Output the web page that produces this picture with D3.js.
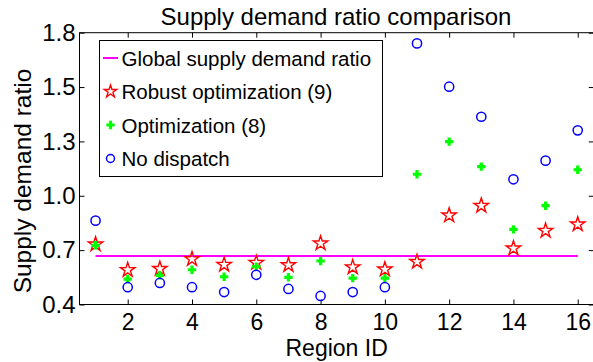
<!DOCTYPE html>
<html>
<head>
<meta charset="utf-8">
<script src="https://cdn.jsdelivr.net/npm/d3@7"></script>
<style>
  html, body { margin: 0; padding: 0; background: #fff; }
  svg { display: block; font-family: "Liberation Sans", Arial, Helvetica, sans-serif; }
</style>
</head>
<body>
<svg id="chart" width="593" height="362"></svg>
<script>
// Region identifiers along the horizontal axis
const regions = [1, 2, 3, 4, 5, 6, 7, 8, 9, 10, 11, 12, 13, 14, 15, 16];

// Supply demand ratio per region for each dispatch strategy
const robustValues = [0.710, 0.578, 0.584, 0.634, 0.605, 0.615, 0.603, 0.715, 0.592, 0.581,
                      0.620, 0.859, 0.909, 0.689, 0.780, 0.813];
const optimValues  = [0.705, 0.531, 0.550, 0.579, 0.543, 0.595, 0.540, 0.624, 0.536, 0.536,
                      1.071, 1.239, 1.110, 0.787, 0.909, 1.094];
const noDispatchValues = [0.832, 0.489, 0.511, 0.489, 0.464, 0.553, 0.480, 0.444, 0.464, 0.489,
                          1.745, 1.522, 1.367, 1.045, 1.141, 1.297];

// Global ratio, drawn as a flat line across all regions
const globalRatio = 0.650;

// Axis ticks
const xTicks = [2, 4, 6, 8, 10, 12, 14, 16];
const yTicks = [0.4, 0.68, 0.96, 1.24, 1.52, 1.8];
const yTickLabels = ["0.4", "0.7", "1.0", "1.3", "1.5", "1.8"];

const legendLabels = ["Global supply demand ratio", "Robust optimization (9)", "Optimization (8)", "No dispatch"];

const plot = { left: 79.5, right: 593.8, top: 32.7, bottom: 304.5 };
const FONT = "Liberation Sans, Arial, sans-serif";

const svg = d3.select("#chart");

const x = d3.scaleLinear().domain([0.5, 16.5]).range([plot.left, plot.right]);
const y = d3.scaleLinear().domain([0.4, 1.8]).range([plot.bottom, plot.top]);

// Pentagram marker path
function starPath(rOuter) {
  const rInner = rOuter * 0.382;
  const pts = [];
  for (let i = 0; i < 10; i++) {
    const r = i % 2 === 0 ? rOuter : rInner;
    const a = -Math.PI / 2 + i * Math.PI / 5;
    pts.push([r * Math.cos(a), r * Math.sin(a)]);
  }
  return "M" + pts.map(p => p[0].toFixed(2) + "," + p[1].toFixed(2)).join("L") + "Z";
}
const STAR = starPath(7.6);
const PLUS = "M-4.2,0L4.2,0M0,-4.2L0,4.2";

// Axes frame and ticks (inward, MATLAB style)
const fmtY = (d, i) => yTickLabels[i];

svg.append("g")
  .attr("transform", `translate(0,${plot.bottom})`)
  .call(d3.axisBottom(x).tickValues(xTicks).tickSizeInner(-5).tickSizeOuter(0).tickPadding(9))
  .call(g => g.select(".domain").remove())
  .call(g => g.selectAll("text").attr("font-size", 23).attr("font-family", FONT).attr("fill", "#000"));

svg.append("g")
  .attr("transform", `translate(0,${plot.top})`)
  .call(d3.axisTop(x).tickValues(xTicks).tickSizeInner(-5).tickSizeOuter(0).tickFormat(""))
  .call(g => g.select(".domain").remove());

svg.append("g")
  .attr("transform", `translate(${plot.left},0)`)
  .call(d3.axisLeft(y).tickValues(yTicks).tickFormat(fmtY).tickSizeInner(-5).tickSizeOuter(0).tickPadding(4))
  .call(g => g.select(".domain").remove())
  .call(g => g.selectAll("text").attr("font-size", 24).attr("font-family", FONT).attr("fill", "#000"));

svg.append("g")
  .attr("transform", `translate(${plot.right},0)`)
  .call(d3.axisRight(y).tickValues(yTicks).tickSizeInner(-5).tickSizeOuter(0).tickFormat(""))
  .call(g => g.select(".domain").remove());

svg.append("rect")
  .attr("x", plot.left).attr("y", plot.top)
  .attr("width", plot.right - plot.left).attr("height", plot.bottom - plot.top)
  .attr("fill", "none").attr("stroke", "#000").attr("stroke-width", 1);

// Global ratio line
svg.append("line")
  .attr("x1", x(regions[0])).attr("x2", x(regions[regions.length - 1]))
  .attr("y1", y(globalRatio)).attr("y2", y(globalRatio))
  .attr("stroke", "#ff00ff").attr("stroke-width", 2);

// Robust optimization (stars)
svg.append("g").selectAll("path")
  .data(regions.map((r, i) => [r, robustValues[i]]))
  .join("path")
  .attr("d", STAR)
  .attr("transform", d => `translate(${x(d[0])},${y(d[1])})`)
  .attr("fill", "none").attr("stroke", "#ff0000").attr("stroke-width", 1.4).attr("stroke-linejoin", "miter");

// Optimization (pluses)
svg.append("g").selectAll("path")
  .data(regions.map((r, i) => [r, optimValues[i]]))
  .join("path")
  .attr("d", PLUS)
  .attr("transform", d => `translate(${x(d[0])},${y(d[1])})`)
  .attr("fill", "none").attr("stroke", "#00ff00").attr("stroke-width", 3.2);

// No dispatch (circles)
svg.append("g").selectAll("circle")
  .data(regions.map((r, i) => [r, noDispatchValues[i]]))
  .join("circle")
  .attr("cx", d => x(d[0])).attr("cy", d => y(d[1])).attr("r", 4.6)
  .attr("fill", "none").attr("stroke", "#0000ff").attr("stroke-width", 1.5);

// Title and axis labels
svg.append("text")
  .attr("x", 336).attr("y", 25)
  .attr("text-anchor", "middle").attr("font-size", 24).text("Supply demand ratio comparison");

svg.append("text")
  .attr("x", (plot.left + plot.right) / 2).attr("y", 356)
  .attr("text-anchor", "middle").attr("font-size", 23).text("Region ID");

svg.append("text")
  .attr("transform", `translate(31,181) rotate(-90)`)
  .attr("text-anchor", "middle").attr("font-size", 24.5).text("Supply demand ratio");

// Legend
const legend = svg.append("g");
legend.append("rect")
  .attr("x", 99.5).attr("y", 40.5).attr("width", 283).attr("height", 136)
  .attr("fill", "#fff").attr("stroke", "#000").attr("stroke-width", 1);

const rowY = [58, 91.5, 125, 158.5];
const symX = 110.5;
legend.append("line")
  .attr("x1", symX - 7.5).attr("x2", symX + 7.5).attr("y1", rowY[0]).attr("y2", rowY[0])
  .attr("stroke", "#ff00ff").attr("stroke-width", 2);
legend.append("path").attr("d", starPath(6.6)).attr("transform", `translate(${symX},${rowY[1]})`)
  .attr("fill", "none").attr("stroke", "#ff0000").attr("stroke-width", 1.4);
legend.append("path").attr("d", PLUS).attr("transform", `translate(${symX},${rowY[2]})`)
  .attr("fill", "none").attr("stroke", "#00ff00").attr("stroke-width", 3.2);
legend.append("circle").attr("cx", symX).attr("cy", rowY[3]).attr("r", 4)
  .attr("fill", "none").attr("stroke", "#0000ff").attr("stroke-width", 1.5);

legend.selectAll("text.lbl")
  .data(legendLabels)
  .join("text")
  .attr("class", "lbl")
  .attr("x", 121.5).attr("y", (d, i) => rowY[i] + 7.5)
  .attr("font-size", 20.5).text(d => d);
</script>
</body>
</html>
